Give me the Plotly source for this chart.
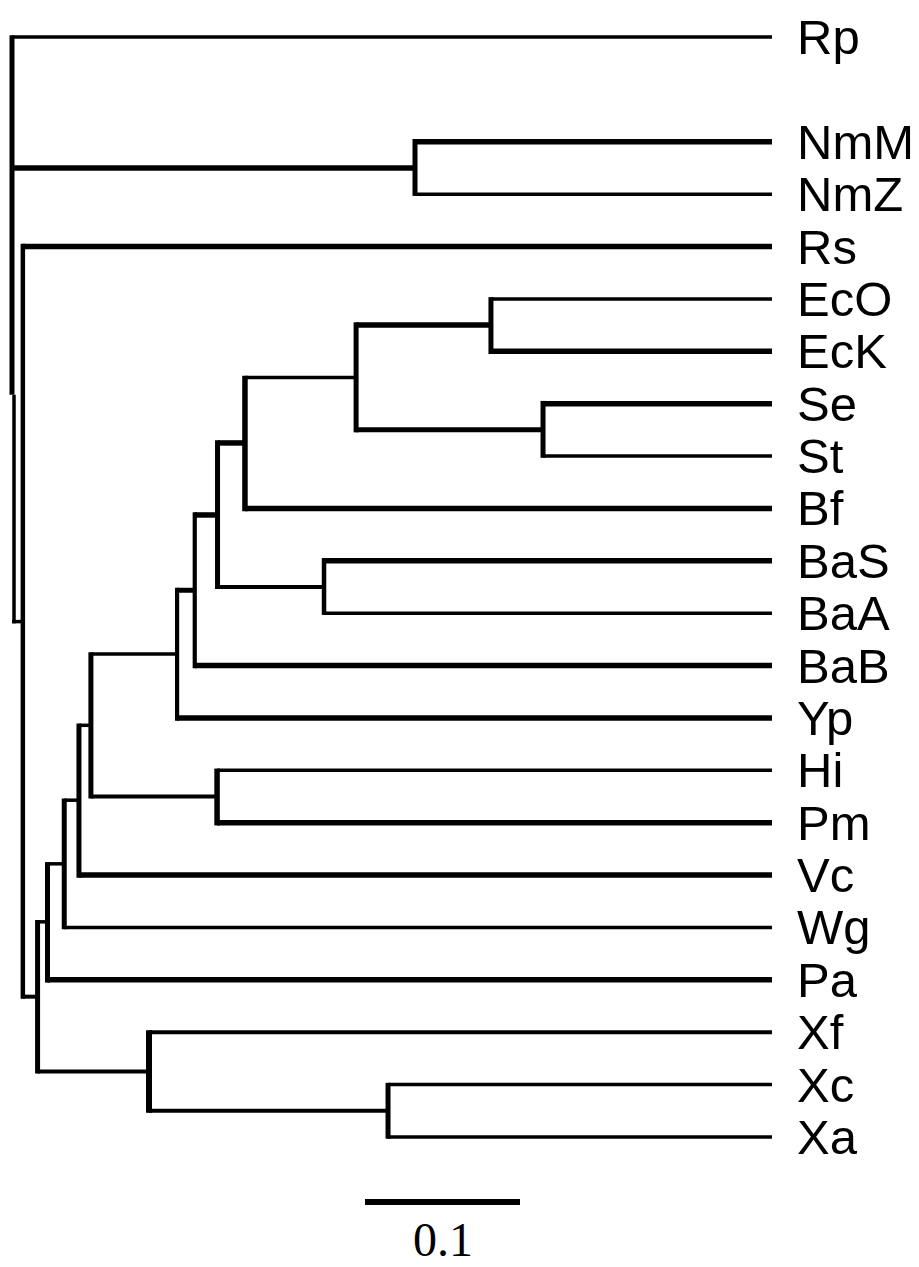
import plotly.graph_objects as go

# ---------------- data ----------------
leaf_names = ["Rp", "NmM", "NmZ", "Rs", "EcO", "EcK", "Se", "St", "Bf", "BaS", "BaA",
              "BaB", "Yp", "Hi", "Pm", "Vc", "Wg", "Pa", "Xf", "Xc", "Xa"]
leaf_depth = 0.4903  # distance from root to every tip

node_names = ["root", "Nm", "X", "Y", "Xan", "XcXa", "Z", "W", "V", "U", "HiPm",
              "T", "S", "R", "BaSA", "Q", "P", "EcOK", "SeSt"]
node_children = [["Rp", "Nm", "X"], ["NmM", "NmZ"], ["Rs", "Y"], ["Z", "Xan"],
                 ["Xf", "XcXa"], ["Xc", "Xa"], ["W", "Pa"], ["V", "Wg"], ["U", "Vc"],
                 ["T", "HiPm"], ["Hi", "Pm"], ["S", "Yp"], ["R", "BaB"], ["Q", "BaSA"],
                 ["BaS", "BaA"], ["P", "Bf"], ["EcOK", "SeSt"], ["EcO", "EcK"], ["Se", "St"]]
node_depth = [0.0, 0.2600, 0.0070, 0.0165, 0.0884, 0.2426, 0.0229, 0.0337, 0.0432,
              0.0509, 0.1323, 0.1065, 0.1179, 0.1326, 0.2013, 0.1503, 0.2220, 0.3090, 0.3426]

scale_value = 0.1
scale_label = "0.1"

# ---------------- styles ----------------
THIN, THICK = 3.5, 5.5
branch_width = {  # width of the horizontal branch leading to each node
    "Rp": THIN, "Nm": THICK, "NmM": THICK, "NmZ": THIN, "X": THIN, "Rs": THICK,
    "Y": 4.0, "Z": THIN, "Xan": 4.0, "Xf": 4.0, "XcXa": 4.0, "Xc": THIN, "Xa": THIN,
    "W": THIN, "Pa": THICK, "V": THIN, "Wg": THIN, "U": THIN, "Vc": THICK,
    "T": THIN, "HiPm": 4.0, "Hi": THIN, "Pm": THICK, "S": 5.0, "Yp": THICK,
    "R": THICK, "BaB": THICK, "Q": THICK, "BaSA": 4.0, "BaS": THICK, "BaA": THIN,
    "P": THIN, "Bf": THICK, "EcOK": THICK, "SeSt": 5.0, "EcO": THIN, "EcK": THICK,
    "Se": THICK, "St": THIN,
}
vertical_width = {
    "Nm": 5.0, "X": 4.5, "Y": 5.0, "Z": 5.0, "W": 5.0, "V": 5.0, "U": 5.0,
    "HiPm": 5.5, "T": 4.2, "S": 4.2, "R": 5.0, "BaSA": 4.5, "Q": 5.5, "P": 5.0,
    "EcOK": 5.0, "SeSt": 5.0, "Xan": 6.0, "XcXa": 5.0,
}

# the page body has an 8px margin, so the figure is drawn 8px smaller and offset
OFF = 8
W, H = 919 - OFF, 1267 - OFF
ROOT_PX = 12 - OFF
PX_X = 1550.0  # pixels per unit of branch length
X_RANGE = [-ROOT_PX / PX_X, (W - ROOT_PX) / PX_X]
ROW_TOP_PX, ROW_PX = 37.0 - OFF, 52.38
Y_RANGE = [(H - ROW_TOP_PX) / ROW_PX, -ROW_TOP_PX / ROW_PX]

# ---------------- layout of the tree ----------------
depth = {n: d for n, d in zip(node_names, node_depth)}
children = {n: c for n, c in zip(node_names, node_children)}
row = {}
for i, name in enumerate(leaf_names):
    row[name] = i + (1 if i > 0 else 0)  # blank row after the outgroup
    depth[name] = leaf_depth


def place(n):
    if n in row:
        return row[n]
    ys = [place(c) for c in children[n]]
    row[n] = (ys[0] + ys[-1]) / 2.0
    return row[n]


place("root")

segments = []  # (xs, ys, width)
for n in node_names:
    kids = children[n]
    top, bot = kids[0], kids[-1]
    ext_top = branch_width[top] / 2 / ROW_PX
    ext_bot = branch_width[bot] / 2 / ROW_PX
    x = depth[n]
    if n == "root":
        split = (row[kids[1]] + row[kids[2]]) / 2
        segments.append(([x, x], [row[top] - ext_top, split], 5.0))
        segments.append(([x + 2.0 / PX_X, x + 2.0 / PX_X], [split, row[bot] + ext_bot], 3.5))
    else:
        segments.append(([x, x], [row[top] - ext_top, row[bot] + ext_bot], vertical_width[n]))
    for c in kids:
        segments.append(([x, depth[c]], [row[c], row[c]], branch_width[c]))

fig = go.Figure()
by_width = {}
for xs, ys, w in segments:
    bx, by = by_width.setdefault(w, ([], []))
    bx += xs + [None]
    by += ys + [None]
for w, (bx, by) in by_width.items():
    fig.add_trace(go.Scatter(x=bx, y=by, mode="lines",
                             line=dict(color="black", width=w),
                             hoverinfo="skip", showlegend=False))

# tip labels
for name in leaf_names:
    fig.add_annotation(x=leaf_depth, y=row[name], text=name, xanchor="left",
                       yanchor="middle", xshift=23, showarrow=False,
                       font=dict(family="Liberation Sans", size=49, color="black"))

# scale bar
bar_x0 = (365 - 12) / PX_X
bar_y = (1202 - 37) / ROW_PX
fig.add_trace(go.Scatter(x=[bar_x0, bar_x0 + scale_value], y=[bar_y, bar_y], mode="lines",
                         line=dict(color="black", width=6), hoverinfo="skip",
                         showlegend=False))
fig.add_annotation(x=bar_x0 + scale_value / 2, y=0, yref="paper",
                   text=scale_label, showarrow=False, xanchor="center", yanchor="bottom",
                   borderpad=0, font=dict(family="Liberation Serif", size=48, color="black"))

fig.update_layout(
    width=W, height=H, margin=dict(l=0, r=0, t=0, b=0),
    paper_bgcolor="white", plot_bgcolor="white",
    xaxis=dict(range=X_RANGE, visible=False, fixedrange=True),
    yaxis=dict(range=Y_RANGE, visible=False, fixedrange=True),
)
fig.write_html("out.html")
